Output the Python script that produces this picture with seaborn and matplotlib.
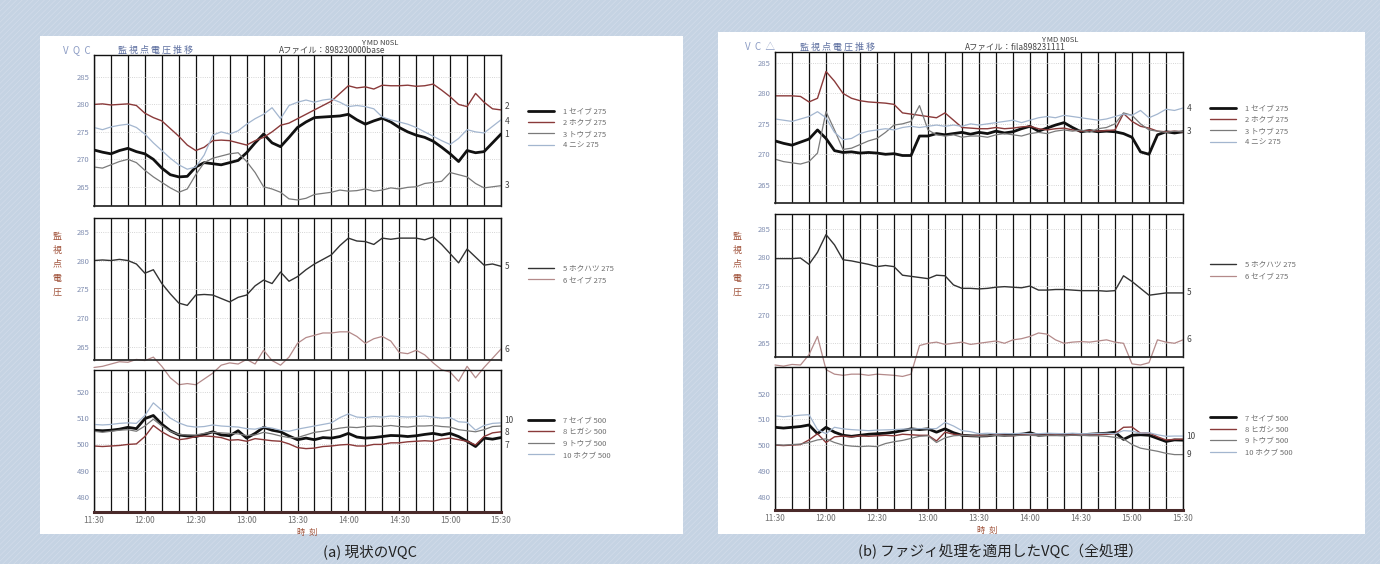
import matplotlib
matplotlib.use("Agg")
import matplotlib.pyplot as plt
from matplotlib.patches import Rectangle
import seaborn as sns

# sample times: minutes after 11:30, every 5 minutes up to 15:30
MINUTES = list(range(0, 241, 5))
TIME_LABELS = ["11:30", "12:00", "12:30", "13:00", "13:30", "14:00", "14:30", "15:00", "15:30"]

# ---- (a) present VQC ----
A1 = [271.7, 271.3, 271.0, 271.6, 272.0, 271.4, 271.0, 270.0, 268.4, 267.2,
      266.8, 266.9, 268.6, 269.4, 269.2, 269.0, 269.4, 269.8, 271.2, 273.0,
      274.6, 273.0, 272.3, 274.0, 275.8, 276.8, 277.6, 277.7, 277.8, 277.9,
      278.2, 277.2, 276.4, 277.0, 277.5, 276.8, 275.8, 275.0, 274.4, 274.0,
      273.3, 272.2, 271.0, 269.6, 271.6, 271.2, 271.4, 273.0, 274.6]
A2 = [280.0, 280.1, 279.9, 280.0, 280.1, 279.8, 278.4, 277.6, 277.0, 275.6,
      274.2, 272.6, 271.6, 272.2, 273.4, 273.5, 273.4, 273.0, 272.6, 273.4,
      274.0, 275.0, 276.2, 276.6, 277.4, 278.2, 279.0, 279.8, 280.6, 282.0,
      283.4, 283.0, 283.2, 282.8, 283.5, 283.4, 283.4, 283.5, 283.3, 283.4,
      283.7, 282.6, 281.4, 280.0, 279.6, 282.0, 280.4, 279.2, 279.0]
A3 = [268.6, 268.4, 269.0, 269.6, 270.0, 269.4, 268.0, 266.8, 265.8, 264.8,
      264.0, 264.6, 267.2, 269.4, 270.2, 270.6, 271.0, 271.2, 269.6, 267.6,
      265.0, 264.6, 264.0, 262.8, 262.6, 262.9, 263.6, 263.8, 264.0, 264.4,
      264.2, 264.3, 264.6, 264.2, 264.4, 264.8, 264.6, 264.9, 265.0, 265.6,
      265.8, 266.0, 267.6, 267.2, 266.8, 265.6, 264.8, 265.0, 265.2]
A4 = [275.8, 275.4, 275.9, 276.2, 276.4, 275.8, 274.6, 273.0, 271.6, 270.2,
      269.0, 268.2, 268.6, 270.8, 274.4, 275.0, 274.6, 275.2, 276.4, 277.4,
      278.2, 279.4, 277.4, 279.8, 280.4, 280.8, 280.4, 280.8, 281.0, 280.4,
      279.6, 279.8, 279.6, 279.2, 277.7, 277.2, 276.8, 276.4, 275.8, 275.0,
      274.2, 273.4, 272.7, 273.8, 275.4, 275.0, 274.8, 276.0, 277.2]
A5 = [280.0, 280.1, 280.0, 280.2, 280.0, 279.4, 277.8, 278.4, 276.0, 274.2,
      272.6, 272.2, 274.0, 274.1, 274.0, 273.4, 272.8, 273.6, 274.0, 275.6,
      276.6, 276.0, 278.0, 276.4, 277.2, 278.4, 279.4, 280.2, 281.0, 282.6,
      283.9, 283.4, 283.3, 282.8, 283.9, 283.7, 283.9, 283.9, 283.9, 283.6,
      284.1, 282.8, 281.2, 279.6, 282.0, 280.6, 279.2, 279.4, 279.0]
A6 = [261.4, 261.6, 262.0, 262.4, 262.3, 262.8, 262.6, 263.2, 261.6, 259.6,
      258.4, 258.6, 258.4, 259.4, 260.4, 261.8, 262.2, 262.0, 262.8, 262.0,
      264.4, 262.6, 261.8, 263.2, 265.6, 266.6, 267.0, 267.4, 267.4, 267.6,
      267.6, 266.8, 265.6, 266.4, 266.8, 266.0, 264.0, 263.8, 264.4, 263.6,
      262.2, 261.0, 260.6, 259.0, 261.6, 259.6, 261.4, 263.0, 264.6]
A7 = [505.4, 505.2, 505.4, 505.8, 506.5, 506.0, 509.8, 511.0, 507.7, 505.2,
      503.6, 503.2, 503.0, 503.8, 504.8, 503.6, 503.3, 505.2, 502.4, 504.2,
      506.5, 505.4, 504.8, 503.2, 501.8, 502.4, 501.8, 502.6, 502.4, 503.0,
      504.2, 502.8, 502.4, 502.6, 503.0, 503.4, 503.3, 503.0, 503.3, 503.8,
      504.2, 503.6, 504.2, 503.0, 501.2, 499.2, 502.4, 502.0, 502.6]
A8 = [499.4, 499.2, 499.4, 499.6, 500.0, 500.2, 503.0, 507.2, 504.8, 503.0,
      501.8, 502.2, 503.0, 503.2, 503.0, 502.6, 501.6, 501.8, 501.2, 502.2,
      501.8, 501.4, 501.2, 500.2, 498.8, 498.4, 498.6, 499.2, 499.4, 499.8,
      500.0, 499.4, 499.4, 500.0, 500.0, 500.6, 500.6, 501.0, 501.2, 501.4,
      501.2, 502.0, 502.4, 501.8, 501.2, 499.8, 503.0, 504.4, 504.8]
A9 = [505.0, 504.6, 505.0, 505.4, 505.6, 505.0, 507.0, 509.6, 507.0, 505.0,
      503.8, 503.6, 503.6, 504.2, 504.6, 504.4, 504.2, 504.0, 503.4, 503.6,
      504.6, 504.0, 503.2, 502.6, 502.6, 503.6, 504.6, 505.0, 505.6, 506.2,
      506.6, 506.4, 506.8, 507.0, 506.8, 507.2, 506.8, 506.6, 507.0, 507.0,
      507.2, 506.8, 506.6, 505.6, 505.2, 504.8, 505.6, 506.8, 507.0]
A10 = [507.6, 507.4, 507.6, 508.0, 508.2, 508.0, 511.0, 515.8, 513.0, 510.0,
       508.2, 507.0, 506.6, 506.8, 507.4, 507.0, 506.8, 506.6, 506.0, 505.8,
       506.6, 506.2, 505.4, 505.0, 505.8, 506.4, 507.0, 507.6, 508.2, 510.2,
       511.6, 510.4, 510.2, 510.6, 510.4, 510.8, 510.6, 510.4, 510.6, 510.8,
       510.4, 510.0, 510.2, 508.6, 508.4, 505.4, 507.2, 508.0, 508.2]

# ---- (b) VQC with fuzzy processing ----
B1 = [272.2, 271.8, 271.5, 272.0, 272.5, 274.0, 272.6, 270.6, 270.3, 270.4,
      270.2, 270.3, 270.2, 270.0, 270.1, 269.8, 269.8, 273.0, 273.0, 273.4,
      273.2, 273.4, 273.6, 273.3, 273.6, 273.4, 273.8, 273.5, 273.7, 274.2,
      274.6, 273.8, 274.3, 274.8, 275.2, 274.4, 273.7, 273.9, 273.7, 273.8,
      273.7, 273.4, 272.8, 270.4, 270.0, 273.2, 273.7, 273.5, 273.7]
B2 = [279.6, 279.6, 279.6, 279.5, 278.6, 279.2, 283.6, 282.0, 280.0, 279.2,
      278.8, 278.6, 278.5, 278.4, 278.2, 276.8, 276.6, 276.4, 276.2, 276.0,
      276.8, 275.6, 274.4, 274.3, 274.2, 274.2, 274.4, 274.2, 274.3, 274.5,
      274.6, 274.2, 274.0, 274.2, 274.3, 274.0, 273.8, 273.9, 273.8, 273.9,
      274.0, 276.7, 275.4, 274.6, 274.3, 273.8, 273.7, 273.8, 273.7]
B3 = [269.2, 268.8, 268.6, 268.4, 268.8, 270.2, 277.0, 274.0, 270.8, 271.0,
      271.6, 272.2, 272.6, 273.6, 274.8, 275.0, 275.4, 278.0, 274.0, 273.2,
      273.0, 273.2, 272.8, 273.0, 273.0, 272.8, 273.2, 273.4, 273.2, 273.0,
      273.4, 273.6, 273.4, 273.8, 274.0, 273.8, 274.0, 273.6, 274.2, 274.4,
      275.0, 276.8, 276.4, 275.0, 274.0, 273.8, 273.6, 273.8, 273.7]
B4 = [275.8, 275.6, 275.4, 275.8, 276.2, 277.0, 276.0, 273.6, 272.4, 272.6,
      273.4, 273.8, 274.0, 274.2, 274.0, 274.4, 274.6, 274.4, 274.6, 274.8,
      274.6, 274.8, 274.6, 275.0, 274.8, 275.0, 275.2, 275.4, 275.6, 275.2,
      275.6, 276.0, 276.2, 276.0, 276.4, 276.2, 276.0, 275.8, 275.6, 275.8,
      276.2, 276.6, 276.4, 277.2, 276.0, 276.6, 277.4, 277.2, 277.6]
B5 = [279.8, 279.8, 279.8, 279.9, 278.8, 280.9, 284.0, 282.2, 279.6, 279.4,
      279.1, 278.8, 278.4, 278.6, 278.4, 276.9, 276.7, 276.5, 276.3, 276.9,
      276.8, 275.2, 274.6, 274.6, 274.5, 274.6, 274.8, 274.9, 274.8, 274.7,
      275.0, 274.3, 274.3, 274.4, 274.4, 274.3, 274.2, 274.2, 274.2, 274.1,
      274.2, 276.8, 275.8, 274.6, 273.4, 273.6, 273.8, 273.8, 273.8]
B6 = [261.2, 261.0, 261.3, 261.2, 263.0, 266.2, 260.4, 259.6, 259.4, 259.6,
      259.6, 259.4, 259.6, 259.5, 259.4, 259.2, 259.6, 264.6, 265.0, 265.2,
      264.8, 265.0, 265.2, 264.8, 265.0, 265.2, 265.4, 265.0, 265.6, 265.8,
      266.2, 266.8, 266.6, 265.6, 265.0, 265.2, 265.3, 265.2, 265.4, 265.6,
      265.2, 265.0, 261.4, 261.2, 261.6, 265.6, 265.2, 265.0, 265.6]
B7 = [506.9, 506.6, 506.9, 507.2, 507.8, 504.4, 506.9, 505.0, 503.8, 503.4,
      503.8, 504.2, 504.4, 504.6, 505.0, 505.6, 506.3, 506.0, 506.3, 505.0,
      506.3, 504.8, 503.8, 503.6, 503.5, 503.6, 504.0, 503.8, 504.0, 504.2,
      504.8, 503.8, 504.0, 504.0, 504.0, 504.1, 504.0, 504.2, 504.4, 504.6,
      505.0, 502.2, 503.8, 504.0, 503.8, 502.6, 501.4, 502.0, 501.9]
B8 = [500.0, 499.8, 500.0, 500.2, 502.0, 504.4, 501.0, 503.2, 503.5, 503.2,
      503.6, 503.4, 503.6, 503.8, 503.6, 504.2, 504.0, 503.8, 503.8, 501.6,
      505.0, 504.2, 503.8, 503.6, 503.8, 503.6, 504.0, 503.8, 503.6, 504.0,
      504.2, 503.8, 503.9, 504.0, 503.8, 504.0, 504.1, 503.9, 504.0, 504.2,
      504.4, 506.9, 507.0, 504.6, 504.8, 503.2, 502.0, 502.2, 502.3]
B9 = [500.2, 500.0, 500.2, 500.4, 501.0, 502.0, 502.4, 501.0, 500.0, 499.6,
      499.4, 499.6, 499.4, 500.6, 501.3, 501.8, 502.6, 503.4, 503.6, 501.0,
      502.8, 503.6, 503.8, 503.6, 503.4, 503.6, 503.8, 503.6, 503.6, 503.8,
      503.8, 503.6, 503.8, 503.8, 503.6, 503.8, 503.8, 503.6, 503.6, 503.4,
      503.0, 502.4, 500.2, 498.8, 498.2, 497.6, 496.8, 496.3, 496.3]
B10 = [511.4, 511.0, 511.3, 511.6, 511.8, 506.0, 504.4, 506.9, 506.3, 506.0,
       505.8, 505.6, 505.8, 505.9, 506.0, 506.2, 506.2, 506.4, 506.3, 506.4,
       508.8, 507.4, 505.6, 505.2, 504.4, 504.6, 504.4, 504.5, 504.4, 504.6,
       504.4, 504.4, 504.6, 504.5, 504.4, 504.6, 504.4, 504.4, 504.5, 504.6,
       504.4, 505.6, 505.4, 504.6, 504.8, 504.0, 503.4, 503.5, 503.5]

LABELS_275 = ["1 セイブ 275", "2 ホクブ 275", "3 トウブ 275", "4 ニシ 275"]
LABELS_MID = ["5 ホクハツ 275", "6 セイブ 275"]
LABELS_500 = ["7 セイブ 500", "8 ヒガシ 500", "9 トウブ 500", "10 ホクブ 500"]

# line styles: (colour, width)
STYLE_TOP = [("#111111", 2.0), ("#8a3a3a", 1.0), ("#7a7a7a", 0.9), ("#a3b6cf", 0.9)]
STYLE_MID = [("#333333", 1.0), ("#b48a8a", 0.9)]
STYLE_BOT = [("#111111", 2.0), ("#8a3a3a", 1.0), ("#7a7a7a", 0.9), ("#a3b6cf", 0.9)]

sns.set_theme(style="white")
plt.rcParams["font.family"] = ["Noto Sans CJK JP", "DejaVu Sans"]
plt.rcParams["hatch.linewidth"] = 0.5

W, H = 1380, 564
fig = plt.figure(figsize=(W / 100, H / 100), dpi=100)
fig.patch.set_facecolor("#c5d3e3")


def px(x0, y0, x1, y1):
    """pixel box (top-left origin) -> figure fraction rect"""
    return [x0 / W, 1 - y1 / H, (x1 - x0) / W, (y1 - y0) / H]


# hatched scan background and two white sheets
fig.add_artist(Rectangle((0, 0), 1, 1, transform=fig.transFigure, facecolor="#c5d3e3",
                         edgecolor="#d2dcea", hatch="//////", lw=0, zorder=-20))
for box in [(40, 36, 683, 534), (718, 32, 1365, 534)]:
    r = px(*box)
    fig.add_artist(Rectangle((r[0], r[1]), r[2], r[3], transform=fig.transFigure,
                             facecolor="white", edgecolor="none", zorder=-10))


def draw_panel(rect, series, styles, labels, ylim, yticks, end_marks, legend_y,
               show_x=False, overflow=()):
    ax = fig.add_axes(rect)
    # transparent so that overflowing traces of the panel above stay visible
    ax.set_facecolor("none")
    for i, (vals, (col, lw), lab) in enumerate(zip(series, styles, labels)):
        sns.lineplot(x=MINUTES, y=vals, ax=ax, color=col, linewidth=lw)
        line = ax.lines[-1]
        line.set_label(lab)
        if i in overflow:
            line.set_clip_on(False)
    for idx, mark, dy in end_marks:
        ax.text(242, series[idx][-1] + dy, mark, fontsize=6, color="#444444",
                va="center", ha="left", clip_on=False)
    ax.set_xlim(0, 240)
    ax.set_ylim(*ylim)
    ax.set_yticks(yticks)
    ax.set_yticklabels([str(t) for t in yticks], fontsize=5.5, color="#7f8db0")
    ax.set_xticks(range(0, 241, 30))
    ax.set_xticks(range(0, 241, 10), minor=True)
    ax.grid(axis="x", which="both", color="#111111", lw=0.9)
    ax.grid(axis="y", which="major", color="#c8c8c8", lw=0.6, ls=":")
    ax.tick_params(length=0, pad=3)
    if show_x:
        ax.set_xticklabels(TIME_LABELS, fontsize=6, color="#707070")
        ax.spines["bottom"].set_color("#4a2a2a")
        ax.spines["bottom"].set_linewidth(2.2)
    else:
        ax.set_xticklabels([])
    for s in ["top", "left", "right"]:
        ax.spines[s].set_color("#111111")
        ax.spines[s].set_linewidth(1.0)
    ax.set_xlabel("")
    ax.set_ylabel("")
    leg = ax.legend(loc="upper left", bbox_to_anchor=(1.05, legend_y), frameon=False,
                    fontsize=5.5, handlelength=3.4, labelspacing=0.45, handletextpad=1.2)
    for t in leg.get_texts():
        t.set_color("#6f6f6f")
    return ax


# panel (a)
XA = (94, 501)
draw_panel(px(XA[0], 55, XA[1], 206), [A1, A2, A3, A4], STYLE_TOP, LABELS_275,
           (261.5, 289), [265, 270, 275, 280, 285],
           [(1, "2", 0.6), (3, "4", -0.4), (0, "1", 0), (2, "3", 0)], 0.7)
draw_panel(px(XA[0], 218, XA[1], 360), [A5, A6], STYLE_MID, LABELS_MID,
           (262.7, 287.4), [265, 270, 275, 280, 285],
           [(0, "5", 0), (1, "6", 0)], 0.72, overflow=(1,))
draw_panel(px(XA[0], 370, XA[1], 512), [A7, A8, A9, A10], STYLE_BOT, LABELS_500,
           (474.3, 528.3), [480, 490, 500, 510, 520],
           [(3, "10", 1.0), (1, "8", -0.4), (0, "7", -3.0)], 0.72, show_x=True)

# panel (b)
XB = (775, 1183)
draw_panel(px(XB[0], 52, XB[1], 203), [B1, B2, B3, B4], STYLE_TOP, LABELS_275,
           (262.0, 286.8), [265, 270, 275, 280, 285],
           [(3, "4", 0), (2, "3", 0)], 0.7)
draw_panel(px(XB[0], 214, XB[1], 357), [B5, B6], STYLE_MID, LABELS_MID,
           (262.6, 287.6), [265, 270, 275, 280, 285],
           [(0, "5", 0), (1, "6", 0)], 0.72, overflow=(1,))
draw_panel(px(XB[0], 367, XB[1], 510), [B7, B8, B9, B10], STYLE_BOT, LABELS_500,
           (474.8, 530.3), [480, 490, 500, 510, 520],
           [(3, "10", 0), (2, "9", 0)], 0.72, show_x=True)


def ftext(x, y, s, **kw):
    fig.text(x / W, 1 - y / H, s, **kw)


# headers
ftext(63, 50, "V  Q  C", fontsize=7, color="#8c9cc4", va="center")
ftext(118, 50, "監 視 点 電 圧 推 移", fontsize=6.5, color="#5d6fa0", va="center")
ftext(380, 43, "Y MD N0SL", fontsize=5.5, color="#444444", va="center", ha="center")
ftext(332, 50, "Aファイル：898230000base", fontsize=6, color="#444444", va="center", ha="center")
ftext(745, 47, "V  C  △", fontsize=7, color="#8c9cc4", va="center")
ftext(800, 47, "監 視 点 電 圧 推 移", fontsize=6.5, color="#5d6fa0", va="center")
ftext(1060, 40, "Y MD N0SL", fontsize=5.5, color="#444444", va="center", ha="center")
ftext(1015, 47, "Aファイル：fila898231111", fontsize=6, color="#444444", va="center", ha="center")

# vertical y label and time label
for x0 in (57, 737):
    for k, ch in enumerate("監視点電圧"):
        ftext(x0, 236 + k * 14, ch, fontsize=6.5, color="#a0523a", ha="center", va="center")
ftext(307, 532, "時  刻", fontsize=6, color="#a0523a", ha="center", va="center")
ftext(987, 530, "時  刻", fontsize=6, color="#a0523a", ha="center", va="center")

# captions
ftext(370, 552, "(a) 現状のVQC", fontsize=10.5, color="#222222", ha="center", va="center")
ftext(1000, 552, "(b) ファジィ処理を適用したVQC（全処理）", fontsize=10.5, color="#222222",
      ha="center", va="center")

fig.savefig("out.png", dpi=100, facecolor=fig.get_facecolor())
